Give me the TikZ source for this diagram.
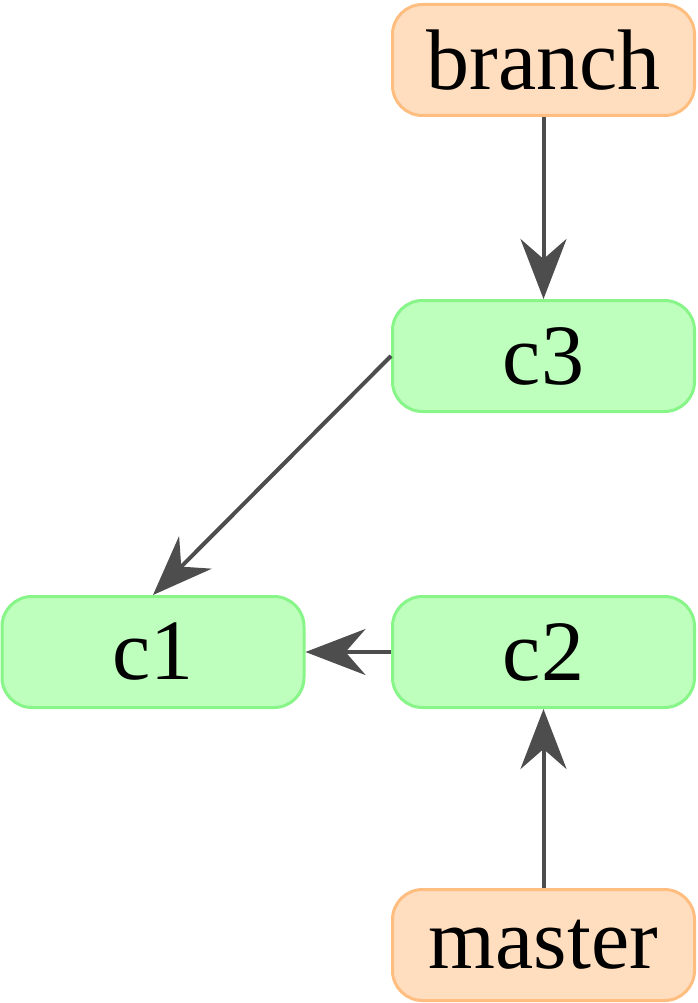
\documentclass[tikz,border=0pt]{standalone}
\usepackage{fontspec}
\setmainfont{Liberation Serif}
\usetikzlibrary{arrows.meta}
\definecolor{orfill}{RGB}{255,222,191}
\definecolor{ordraw}{RGB}{255,190,128}
\definecolor{grfill}{RGB}{190,255,190}
\definecolor{grdraw}{RGB}{135,245,135}
\definecolor{edgec}{RGB}{77,77,77}
\tikzset{
  box/.style={rounded corners=30pt, line width=3pt, minimum width=302pt, minimum height=111pt, inner sep=0pt, font=\fontsize{86}{86}\selectfont},
  refbox/.style={box, fill=orfill, draw=ordraw},
  commit/.style={box, fill=grfill, draw=grdraw},
  edge/.style={draw=edgec, line width=4pt, -{Stealth[length=60pt, width=46pt, inset=20pt]}}
}
\begin{document}
\begin{tikzpicture}[x=1pt,y=-1pt]
\useasboundingbox (0,0) rectangle (698,1003);
\node[refbox] (branch) at (543.5,60) {branch};
\node[commit] (c3) at (543.5,356) {c3};
\node[commit] (c1) at (153,652) {c1};
\node[commit] (c2) at (543.5,652) {c2};
\node[refbox] (master) at (543.5,945) {master};
\draw[edge] (branch.south) -- (c3.north);
\draw[edge] (c3.west) -- (c1.north);
\draw[edge] (c2.west) -- (c1.east);
\draw[edge] (master.north) -- (c2.south);
\end{tikzpicture}
\end{document}
